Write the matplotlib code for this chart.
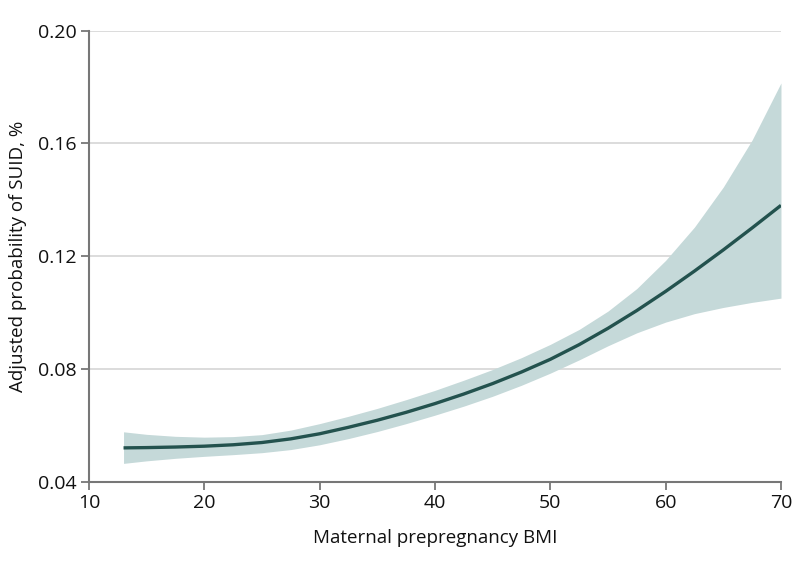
import matplotlib
matplotlib.use("Agg")
import matplotlib.pyplot as plt

plt.rcParams['font.family'] = ['Open Sans', 'DejaVu Sans']

bmi = [13, 15, 17.5, 20, 22.5, 25, 27.5, 30, 32.5, 35, 37.5, 40, 42.5, 45,
       47.5, 50, 52.5, 55, 57.5, 60, 62.5, 65, 67.5, 70]
prob = [0.0520, 0.0521, 0.0523, 0.0526, 0.0531, 0.0539, 0.0552, 0.0570, 0.0593,
        0.0618, 0.0646, 0.0677, 0.0711, 0.0748, 0.0789, 0.0834, 0.0886, 0.0944,
        0.1007, 0.1075, 0.1147, 0.1222, 0.1300, 0.1380]
lower = [0.0465, 0.0474, 0.0483, 0.0490, 0.0496, 0.0503, 0.0514, 0.0531, 0.0553,
         0.0578, 0.0606, 0.0636, 0.0668, 0.0703, 0.0742, 0.0785, 0.0832, 0.0882,
         0.0928, 0.0966, 0.0996, 0.1018, 0.1036, 0.1051]
upper = [0.0577, 0.0568, 0.0561, 0.0558, 0.0560, 0.0567, 0.0583, 0.0606, 0.0632,
         0.0660, 0.0691, 0.0724, 0.0760, 0.0798, 0.0840, 0.0887, 0.0940, 0.1005,
         0.1085, 0.1185, 0.1303, 0.1445, 0.1612, 0.1814]

xticks = [10, 20, 30, 40, 50, 60, 70]
yticks = [0.04, 0.08, 0.12, 0.16, 0.20]
ytick_labels = ['0.04', '0.08', '0.12', '0.16', '0.20']

fig = plt.figure(figsize=(7.94, 5.67), dpi=100)
ax = fig.add_axes([0.112, 0.1504, 0.8716, 0.7958])

for y in yticks[1:]:
    ax.axhline(y, color='#d9d9d9', lw=1.3, zorder=0)

ax.fill_between(bmi, lower, upper, color='#c5d9d9', lw=0, zorder=1)
ax.plot(bmi, prob, color='#23524e', lw=2.4, zorder=2, solid_capstyle='butt',
        solid_joinstyle='round')

ax.set_xlim(10, 70)
ax.set_ylim(0.04, 0.20)
ax.set_xticks(xticks)
ax.set_xticklabels([str(t) for t in xticks])
ax.set_yticks(yticks)
ax.set_yticklabels(ytick_labels)

for s in ['top', 'right']:
    ax.spines[s].set_visible(False)
for s in ['left', 'bottom']:
    ax.spines[s].set_color('#777777')
    ax.spines[s].set_linewidth(1.5)
ax.tick_params(axis='both', direction='out', length=6, width=1.3, color='#777777',
               labelsize=14, labelcolor='#111111', pad=3)

ax.set_xlabel('Maternal prepregnancy BMI', fontsize=13.5, color='#111111', labelpad=12)
ax.set_ylabel('Adjusted probability of SUID, %', fontsize=13.5, color='#111111', labelpad=8)

fig.savefig('out.png', dpi=100)
